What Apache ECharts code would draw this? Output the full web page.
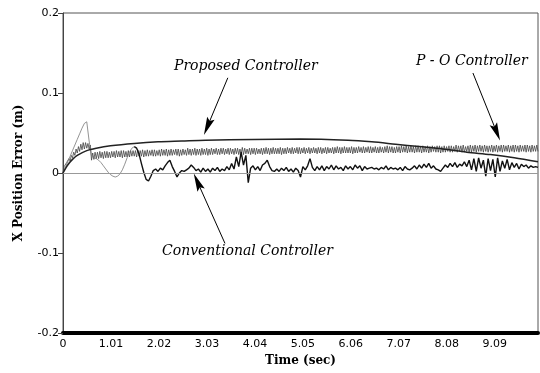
<!DOCTYPE html>
<html>
<head>
<meta charset="utf-8">
<script src="https://cdn.jsdelivr.net/npm/echarts@6/dist/echarts.min.js"></script>
<style>
  html, body { margin: 0; padding: 0; background: #fff; }
  #chart { width: 540px; height: 373px; }
</style>
</head>
<body>
<div id="chart"></div>
<script>
// sample steps (s) of the two sampled traces
var poStep = 0.025;
var convStep = 0.05;

// Proposed controller (smooth)
var propTime = [0, 0.1, 0.2, 0.3, 0.5, 0.7, 1.0, 1.5, 2.0, 2.5, 3.0, 4.0, 5.0, 6.0, 6.5, 7.0, 7.5, 8.0, 8.5, 9.0, 9.5, 10.0];
var propVals = [0, 0.010, 0.017, 0.022, 0.028, 0.031, 0.034, 0.037, 0.039, 0.040, 0.041, 0.042, 0.0425, 0.041, 0.039, 0.036, 0.033, 0.030, 0.026, 0.023, 0.019, 0.014];

// P - O controller (hatched band), one value every poStep
var poVals = [
  0, 0.008, 0.006, 0.013, 0.011, 0.018, 0.015, 0.022, 0.019, 0.026, 0.022, 0.030, 0.025, 0.033, 0.027, 0.036, 0.029, 0.038, 0.030, 0.038,
  0.031, 0.037, 0.030, 0.035, 0.016, 0.025, 0.017, 0.026, 0.018, 0.026, 0.018, 0.027, 0.019, 0.026, 0.018, 0.027, 0.019, 0.027, 0.019, 0.026,
  0.019, 0.027, 0.020, 0.027, 0.019, 0.028, 0.020, 0.027, 0.020, 0.028, 0.019, 0.028, 0.020, 0.027, 0.020, 0.028, 0.020, 0.028, 0.021, 0.028,
  0.021, 0.028, 0.020, 0.029, 0.021, 0.028, 0.021, 0.029, 0.020, 0.028, 0.021, 0.029, 0.021, 0.028, 0.022, 0.029, 0.021, 0.029, 0.021, 0.028,
  0.022, 0.029, 0.021, 0.030, 0.022, 0.029, 0.022, 0.030, 0.021, 0.029, 0.022, 0.030, 0.022, 0.029, 0.023, 0.030, 0.022, 0.030, 0.021, 0.029,
  0.022, 0.030, 0.023, 0.029, 0.022, 0.031, 0.023, 0.030, 0.022, 0.030, 0.023, 0.031, 0.022, 0.030, 0.023, 0.030, 0.022, 0.031, 0.023, 0.030,
  0.023, 0.031, 0.022, 0.030, 0.023, 0.031, 0.023, 0.030, 0.024, 0.031, 0.023, 0.030, 0.023, 0.031, 0.024, 0.031, 0.023, 0.030, 0.024, 0.031,
  0.023, 0.031, 0.024, 0.030, 0.023, 0.031, 0.024, 0.031, 0.023, 0.030, 0.024, 0.032, 0.023, 0.031, 0.024, 0.030, 0.024, 0.031, 0.023, 0.031,
  0.024, 0.031, 0.023, 0.031, 0.024, 0.030, 0.024, 0.031, 0.023, 0.031, 0.024, 0.032, 0.024, 0.031, 0.023, 0.031, 0.024, 0.032, 0.024, 0.031,
  0.024, 0.031, 0.024, 0.032, 0.023, 0.031, 0.024, 0.031, 0.024, 0.032, 0.025, 0.031, 0.024, 0.032, 0.024, 0.031, 0.025, 0.032, 0.024, 0.032,
  0.024, 0.031, 0.025, 0.032, 0.024, 0.031, 0.025, 0.032, 0.024, 0.031, 0.025, 0.032, 0.025, 0.031, 0.024, 0.032, 0.025, 0.032, 0.024, 0.031,
  0.025, 0.032, 0.024, 0.032, 0.025, 0.031, 0.025, 0.032, 0.024, 0.032, 0.025, 0.033, 0.025, 0.032, 0.024, 0.032, 0.025, 0.033, 0.025, 0.032,
  0.025, 0.032, 0.025, 0.033, 0.024, 0.032, 0.025, 0.032, 0.025, 0.033, 0.026, 0.032, 0.025, 0.033, 0.025, 0.032, 0.026, 0.033, 0.025, 0.033,
  0.025, 0.032, 0.026, 0.033, 0.025, 0.032, 0.025, 0.033, 0.026, 0.032, 0.025, 0.033, 0.026, 0.034, 0.025, 0.033, 0.026, 0.033, 0.025, 0.032,
  0.025, 0.033, 0.026, 0.033, 0.025, 0.034, 0.026, 0.033, 0.026, 0.034, 0.025, 0.033, 0.026, 0.034, 0.026, 0.033, 0.025, 0.034, 0.026, 0.034,
  0.026, 0.033, 0.025, 0.034, 0.026, 0.033, 0.026, 0.034, 0.025, 0.033, 0.026, 0.034, 0.027, 0.033, 0.026, 0.034, 0.026, 0.034, 0.025, 0.033,
  0.026, 0.034, 0.026, 0.033, 0.027, 0.034, 0.026, 0.034, 0.026, 0.033, 0.027, 0.035, 0.026, 0.034, 0.027, 0.034, 0.026, 0.035, 0.026, 0.033,
  0.027, 0.034, 0.026, 0.035, 0.026, 0.034, 0.027, 0.035, 0.026, 0.034, 0.027, 0.035, 0.027, 0.034, 0.026, 0.035, 0.027, 0.034, 0.026, 0.034,
  0.027, 0.035, 0.026, 0.034, 0.027, 0.035, 0.026, 0.034, 0.027, 0.035, 0.026, 0.035, 0.027, 0.034, 0.027, 0.035, 0.026, 0.034, 0.027, 0.035,
  0.026, 0.035, 0.027, 0.034, 0.026, 0.035, 0.027, 0.034, 0.027, 0.035, 0.026, 0.035, 0.027, 0.034, 0.026, 0.035, 0.027, 0.034, 0.027, 0.035,
  0.027
];

// Conventional controller, one value every convStep
var convVals = [
  0, 0.007, 0.014, 0.021, 0.028, 0.035, 0.042, 0.049, 0.056, 0.062,
  0.064, 0.040, 0.021, 0.019, 0.018, 0.016, 0.013, 0.009, 0.005, 0.001,
  -0.002, -0.004, -0.005, -0.004, -0.001, 0.004, 0.011, 0.019, 0.026, 0.031,
  0.033, 0.031, 0.024, 0.012, 0.001, -0.008, -0.010, -0.004, 0.003, 0.005,
  0.002, 0.006, 0.004, 0.009, 0.013, 0.016, 0.008, 0.002, -0.005, 0.000,
  0.003, 0.002, 0.004, 0.006, 0.010, 0.007, 0.003, 0.005, 0.001, 0.006,
  0.002, 0.005, 0.001, 0.006, 0.003, 0.007, 0.002, 0.005, 0.003, 0.008,
  0.004, 0.012, 0.005, 0.020, 0.008, 0.026, 0.010, 0.022, -0.012, 0.006,
  0.009, 0.004, 0.008, 0.003, 0.010, 0.012, 0.016, 0.008, 0.003, 0.002,
  0.005, 0.002, 0.006, 0.003, 0.007, 0.002, 0.005, 0.001, 0.006, 0.003,
  -0.005, 0.008, 0.004, 0.009, 0.018, 0.007, 0.003, 0.008, 0.004, 0.009,
  0.003, 0.008, 0.005, 0.010, 0.004, 0.009, 0.005, 0.007, 0.003, 0.009,
  0.005, 0.008, 0.004, 0.010, 0.006, 0.009, 0.003, 0.008, 0.005, 0.006,
  0.007, 0.005, 0.006, 0.004, 0.007, 0.005, 0.009, 0.004, 0.007, 0.005,
  0.006, 0.004, 0.007, 0.003, 0.008, 0.005, 0.004, 0.006, 0.009, 0.005,
  0.010, 0.006, 0.011, 0.007, 0.012, 0.006, 0.009, 0.005, 0.004, 0.002,
  0.006, 0.010, 0.007, 0.012, 0.008, 0.013, 0.007, 0.011, 0.009, 0.014,
  0.008, 0.016, 0.004, 0.018, 0.002, 0.019, 0.006, 0.016, -0.004, 0.018,
  0.003, 0.017, -0.005, 0.019, 0.002, 0.015, 0.006, 0.017, 0.004, 0.013,
  0.007, 0.012, 0.005, 0.011, 0.008, 0.010, 0.006, 0.009, 0.007, 0.008,
  0.007
];
// index where the conventional trace turns from thin grey to thick black
var convSplit = 30;

var yTicks = [-0.2, -0.1, 0, 0.1, 0.2];

function sampled(vals, step, from, to) {
  var out = [];
  for (var i = from; i < to; i++) out.push([+(i * step).toFixed(3), vals[i]]);
  return out;
}

var propData = propTime.map(function (t, i) { return [t, propVals[i]]; });

var myChart = echarts.init(document.getElementById('chart'));

var serif = 'DejaVu Serif';
var noteFont = 'italic 14px "DejaVu Serif"';
// long narrow arrowhead, tip at the top
var arrowHead = 'path://M4,0 L8,18 L4,15 L0,18 Z';

option = {
  animation: false,
  backgroundColor: '#fff',
  grid: { left: 63, right: 2, top: 13, bottom: 40, show: true, borderColor: '#555', borderWidth: 1 },
  xAxis: {
    type: 'value', min: 0, max: 10, interval: 1.01,
    name: 'Time (sec)', nameLocation: 'middle', nameGap: 22,
    nameTextStyle: { fontFamily: serif, fontWeight: 'bold', fontSize: 12, color: '#000' },
    axisLine: { onZero: false, lineStyle: { color: '#000', width: 4 } },
    axisTick: { show: false },
    splitLine: { show: false },
    axisLabel: {
      showMaxLabel: false, margin: 6, color: '#000', fontFamily: 'DejaVu Sans', fontSize: 11,
      formatter: function (v) { return v === 0 ? '0' : v.toFixed(2); }
    }
  },
  yAxis: {
    type: 'value', min: yTicks[0], max: yTicks[yTicks.length - 1], interval: 0.1,
    name: 'X Position Error (m)', nameLocation: 'middle', nameGap: 38,
    nameTextStyle: { fontFamily: serif, fontWeight: 'bold', fontSize: 12, color: '#000' },
    axisLine: { show: true, lineStyle: { color: '#444', width: 1 } },
    axisTick: { show: true, length: 5, lineStyle: { color: '#444' } },
    splitLine: { show: false },
    axisLabel: {
      margin: 4, color: '#000', fontFamily: 'DejaVu Sans', fontSize: 11,
      formatter: function (v) { return String(+v.toFixed(1)); }
    }
  },
  series: [
    {
      name: 'P - O Controller', type: 'line', showSymbol: false,
      data: sampled(poVals, poStep, 0, poVals.length),
      lineStyle: { color: '#444', width: 0.8 },
      markLine: {
        silent: true, symbol: 'none', label: { show: false },
        lineStyle: { color: '#999', width: 1, type: 'solid' },
        data: [{ yAxis: 0 }]
      },
      z: 2
    },
    {
      name: 'Conventional Controller', type: 'line', showSymbol: false,
      data: sampled(convVals, convStep, 0, convSplit + 1),
      lineStyle: { color: '#777', width: 0.8 },
      z: 3
    },
    {
      name: 'Conventional Controller (late)', type: 'line', showSymbol: false,
      data: sampled(convVals, convStep, convSplit, convVals.length),
      lineStyle: { color: '#111', width: 1.4 },
      z: 4
    },
    {
      name: 'Proposed Controller', type: 'line', showSymbol: false,
      data: propData, smooth: 0.3,
      lineStyle: { color: '#222', width: 1.5 },
      markLine: {
        silent: true, symbol: ['none', arrowHead], symbolSize: 18, symbolKeepAspect: true,
        label: { show: false },
        itemStyle: { color: '#000' },
        lineStyle: { color: '#000', width: 1, type: 'solid' },
        data: [
          [{ coord: [3.47, 0.119] }, { coord: [3.04, 0.058] }],
          [{ coord: [8.63, 0.125] }, { coord: [9.13, 0.051] }],
          [{ coord: [3.41, -0.088] }, { coord: [2.83, -0.011] }]
        ]
      },
      z: 5
    }
  ],
  graphic: [
    { type: 'text', left: 174, top: 59, style: { text: 'Proposed Controller', font: noteFont, fill: '#000' } },
    { type: 'text', left: 416, top: 54, style: { text: 'P - O Controller', font: noteFont, fill: '#000' } },
    { type: 'text', left: 162, top: 244, style: { text: 'Conventional Controller', font: noteFont, fill: '#000' } }
  ]
};

myChart.setOption(option);
</script>
</body>
</html>
